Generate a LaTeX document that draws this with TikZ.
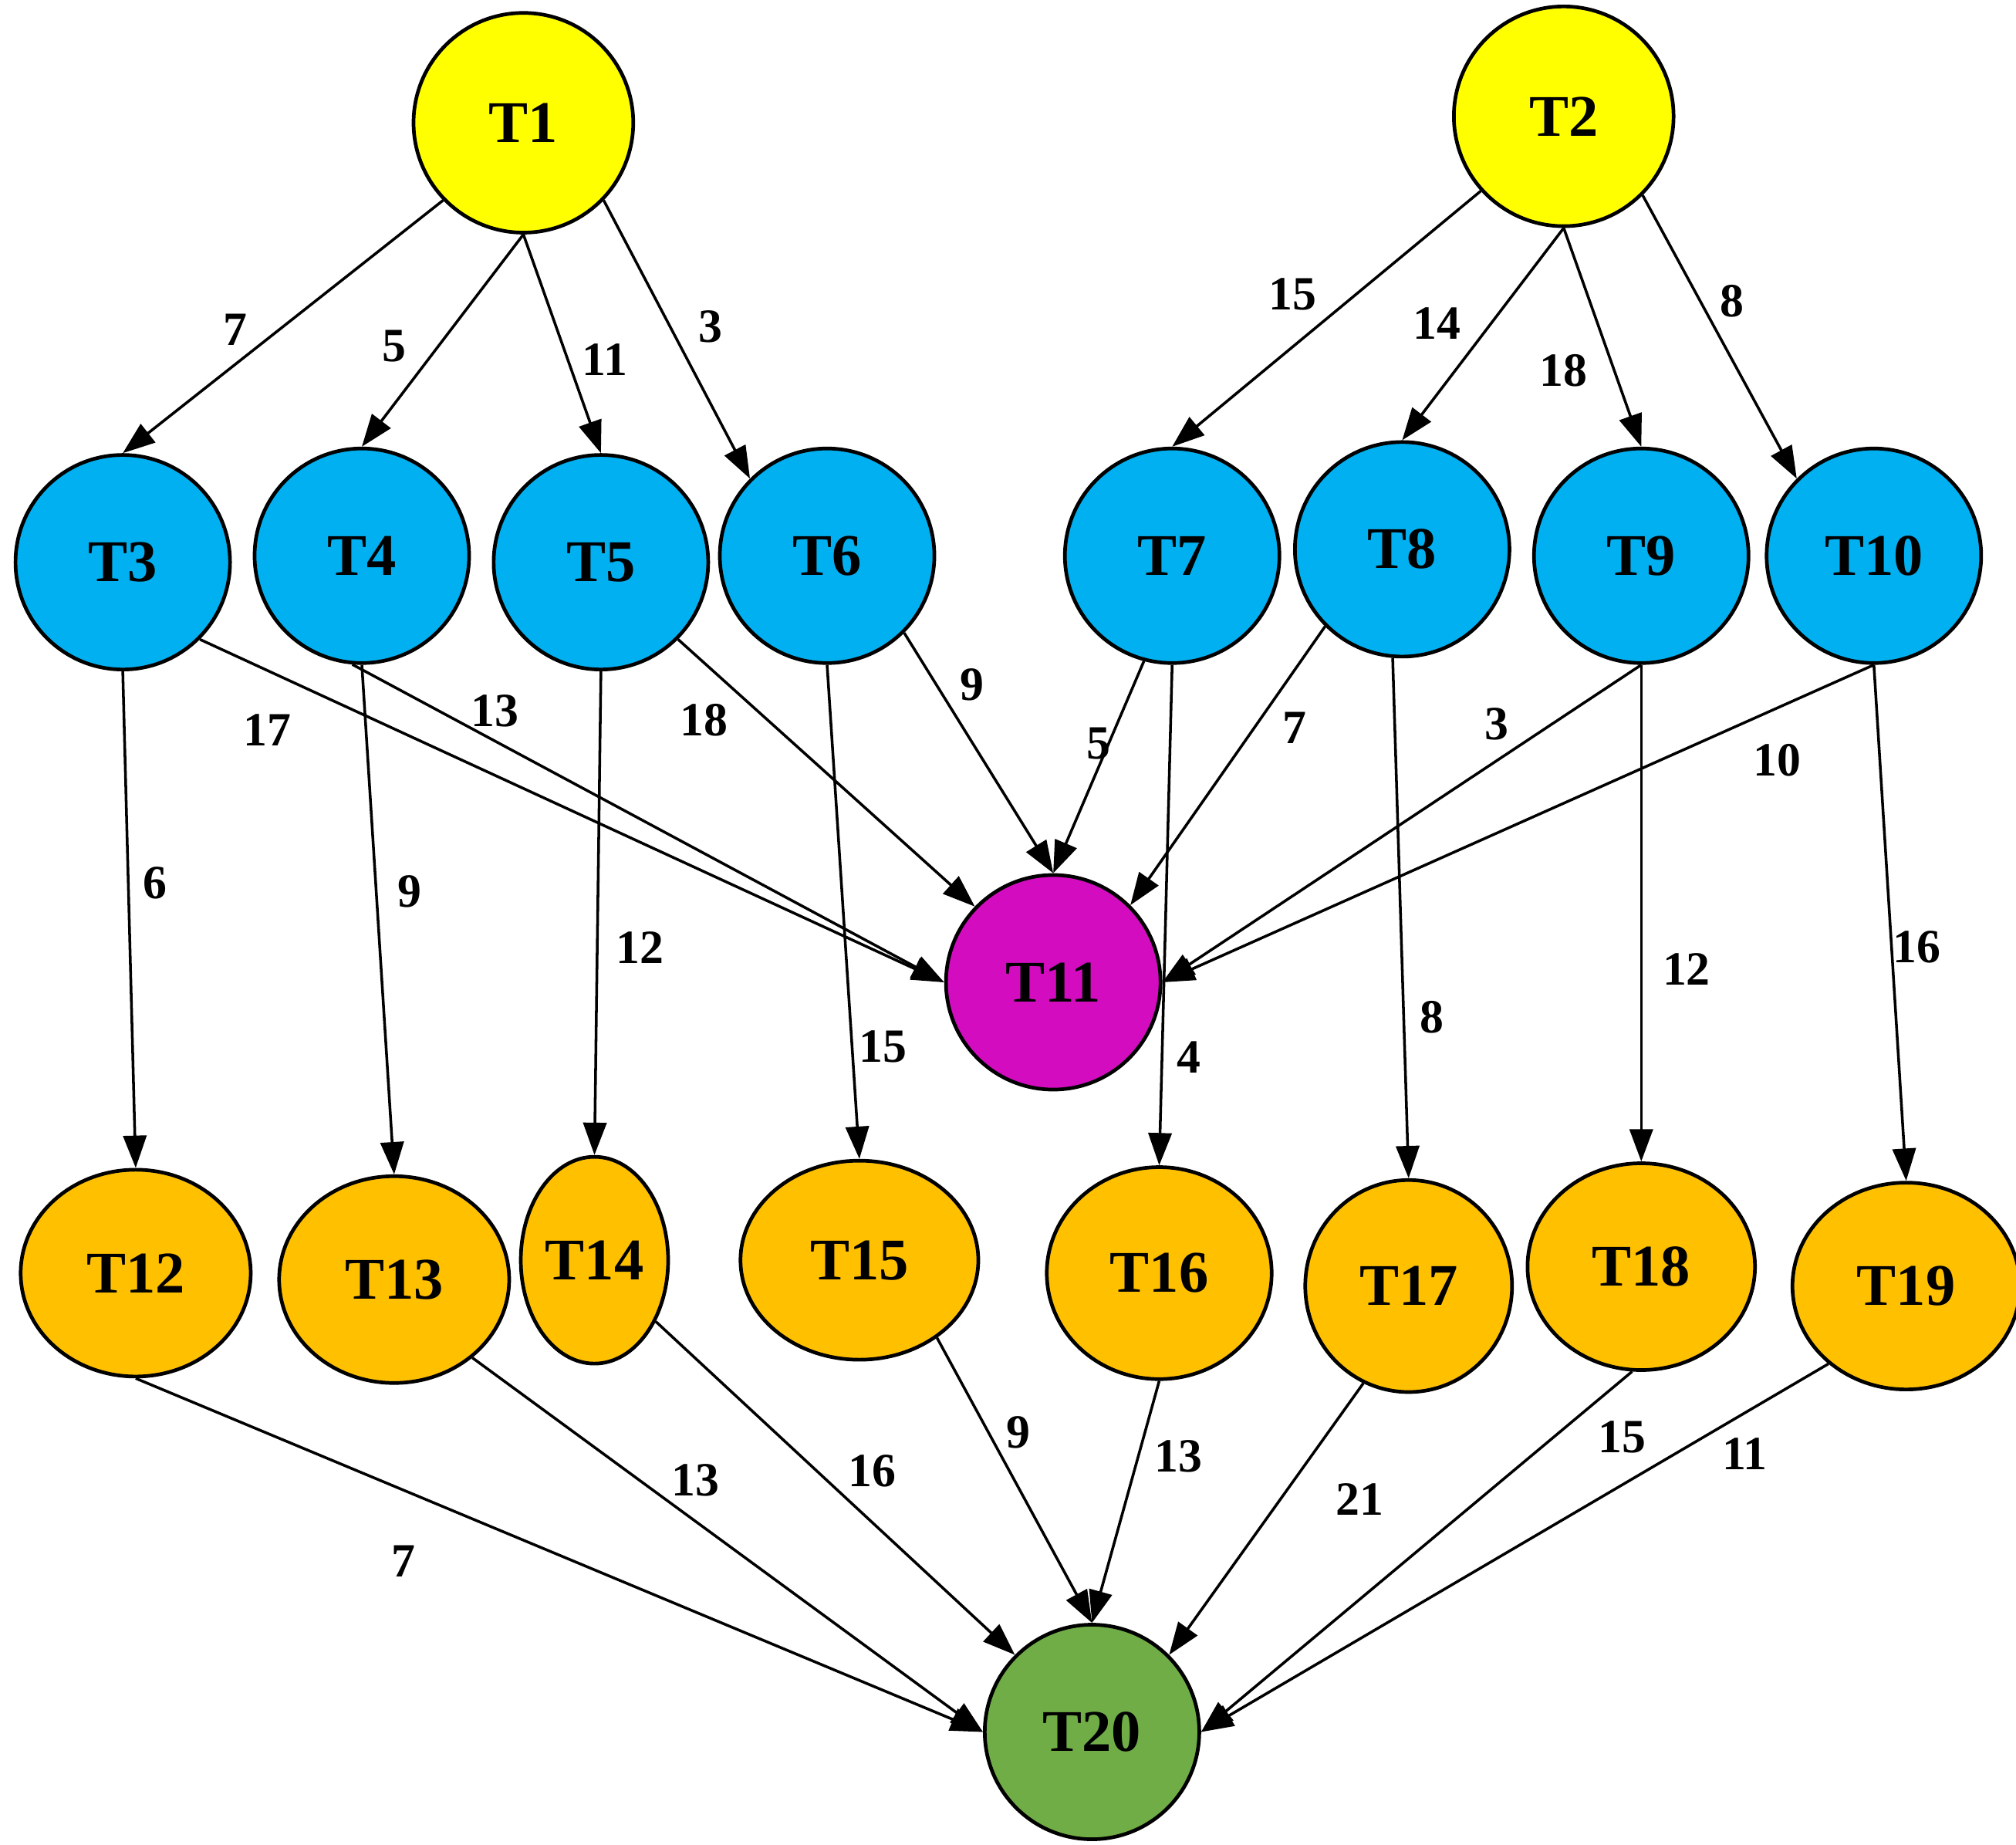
\documentclass[tikz,border=0pt]{standalone}
\usepackage{fontspec}
\setmainfont{Liberation Serif}
\usetikzlibrary{arrows.meta, shapes.geometric}
\definecolor{tyellow}{RGB}{255,255,0}
\definecolor{tblue}{RGB}{0,176,240}
\definecolor{tpink}{RGB}{212,12,192}
\definecolor{torange}{RGB}{255,192,0}
\definecolor{tgreen}{RGB}{112,173,71}

\begin{document}
\begin{tikzpicture}[
    task/.style={ellipse, draw=black, thick, inner sep=0pt, minimum width=1.66cm, minimum height=1.66cm, font=\fontsize{13}{13}\selectfont\bfseries},
    src/.style={task, fill=tyellow, minimum width=1.7cm, minimum height=1.7cm},
    mid/.style={task, fill=tblue},
    sink/.style={task, fill=tpink},
    leaf/.style={task, fill=torange, minimum width=1.78cm, minimum height=1.6cm},
    fin/.style={task, fill=tgreen},
    wt/.style={font=\fontsize{10.5}{10.5}\selectfont\bfseries},
    arrow/.style={-{Triangle[length=2.5mm, width=1.8mm]}, semithick},
]
\useasboundingbox (0,0) rectangle (15.6,-14.27);

% Sources
\node[src] (T1) at (4.05,-0.95) {T1};
\node[src] (T2) at (12.10,-0.90) {T2};

% Middle row
\node[mid] (T3) at (0.95,-4.35) {T3};
\node[mid] (T4) at (2.80,-4.30) {T4};
\node[mid] (T5) at (4.65,-4.35) {T5};
\node[mid] (T6) at (6.40,-4.30) {T6};
\node[mid] (T7) at (9.07,-4.30) {T7};
\node[mid] (T8) at (10.85,-4.25) {T8};
\node[mid] (T9) at (12.70,-4.30) {T9};
\node[mid] (T10) at (14.50,-4.30) {T10};
\node[sink] (T11) at (8.15,-7.60) {T11};

% Bottom row
\node[leaf] (T12) at (1.05,-9.85) {T12};
\node[leaf] (T13) at (3.05,-9.90) {T13};
\node[leaf, minimum width=1.14cm] (T14) at (4.60,-9.75) {T14};
\node[leaf, minimum width=1.84cm, minimum height=1.54cm] (T15) at (6.65,-9.75) {T15};
\node[leaf, minimum width=1.74cm, minimum height=1.64cm] (T16) at (8.97,-9.85) {T16};
\node[leaf, minimum width=1.6cm, minimum height=1.64cm] (T17) at (10.90,-9.95) {T17};
\node[leaf, minimum width=1.76cm] (T18) at (12.70,-9.80) {T18};
\node[leaf, minimum width=1.76cm] (T19) at (14.75,-9.95) {T19};
\node[fin] (T20) at (8.45,-13.40) {T20};

% Edges from sources
\draw[arrow] (T1.224) -- (T3.north);
\draw[arrow] (T1.south) -- (T4.north);
\draw[arrow] (T1.south) -- (T5.north);
\draw[arrow] (T1.316) -- (T6.135);
\draw[arrow] (T2.222) -- (T7.north);
\draw[arrow] (T2.south) -- (T8.north);
\draw[arrow] (T2.south) -- (T9.north);
\draw[arrow] (T2.315) -- (T10.135);
\node[wt] (w13) at (1.82,-2.55) {7};
\node[wt] (w14) at (3.05,-2.68) {5};
\node[wt] (w15) at (4.68,-2.78) {11};
\node[wt] (w16) at (5.50,-2.53) {3};
\node[wt] (w27) at (10.00,-2.28) {15};
\node[wt] (w28) at (11.12,-2.50) {14};
\node[wt] (w29) at (12.10,-2.87) {18};
\node[wt] (w210) at (13.40,-2.33) {8};

% Edges into T11
\draw[arrow] (T3.315) -- (T11.west);
\draw[arrow] (T4.265) -- (T11.west);
\draw[arrow] (T5.315) -- (T11.136);
\draw[arrow] (T6.315) -- (T11.north);
\draw[arrow] (T7.255) -- (T11.north);
\draw[arrow] (T8.225) -- (T11.45);
\draw[arrow] (T9.south) -- (T11.east);
\draw[arrow] (T10.south) -- (T11.east);
\node[wt] (w311) at (2.07,-5.65) {17};
\node[wt] (w411) at (3.83,-5.50) {13};
\node[wt] (w511) at (5.45,-5.57) {18};
\node[wt] (w611) at (7.52,-5.30) {9};
\node[wt] (w711) at (8.50,-5.75) {5};
\node[wt] (w811) at (10.02,-5.63) {7};
\node[wt] (w911) at (11.58,-5.60) {3};
\node[wt] (w1011) at (13.75,-5.88) {10};

% Vertical edges
\draw[arrow] (T3.south) -- (T12.north);
\draw[arrow] (T4.south) -- (T13.north);
\draw[arrow] (T5.south) -- (T14.north);
\draw[arrow] (T6.south) -- (T15.north);
\draw[arrow] (T7.south) -- (T16.north);
\draw[arrow] (T8.265) -- (T17.north);
\draw[arrow] (T9.south) -- (T18.north);
\draw[arrow] (T10.south) -- (T19.north);
\node[wt] (w312) at (1.20,-6.83) {6};
\node[wt] (w413) at (3.17,-6.90) {9};
\node[wt] (w514) at (4.95,-7.33) {12};
\node[wt] (w615) at (6.83,-8.10) {15};
\node[wt] (w716) at (9.20,-8.18) {4};
\node[wt] (w817) at (11.08,-7.87) {8};
\node[wt] (w918) at (13.05,-7.50) {12};
\node[wt] (w1019) at (14.83,-7.33) {16};

% Edges into T20
\draw[arrow] (T12.south) -- (T20.west);
\draw[arrow] (T13.315) -- (T20.west);
\draw[arrow] (T14.315) -- (T20.135);
\draw[arrow] (T15.315) -- (T20.north);
\draw[arrow] (T16.south) -- (T20.north);
\draw[arrow] (T17.245) -- (T20.45);
\draw[arrow] (T18.265) -- (T20.east);
\draw[arrow] (T19.225) -- (T20.east);
\node[wt] (w1220) at (3.12,-12.08) {7};
\node[wt] (w1320) at (5.38,-11.45) {13};
\node[wt] (w1420) at (6.75,-11.38) {16};
\node[wt] (w1520) at (7.88,-11.08) {9};
\node[wt] (w1620) at (9.12,-11.27) {13};
\node[wt] (w1720) at (10.52,-11.60) {21};
\node[wt] (w1820) at (12.55,-11.12) {15};
\node[wt] (w1920) at (13.50,-11.25) {11};
\end{tikzpicture}
\end{document}
